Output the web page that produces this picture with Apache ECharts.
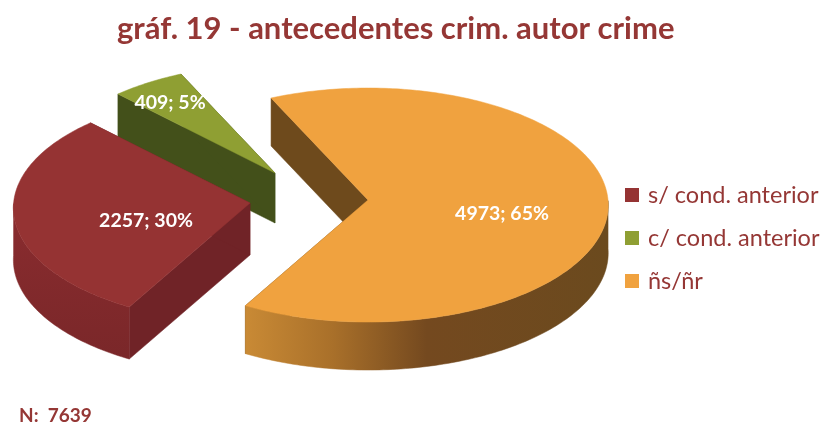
<!DOCTYPE html>
<html>
<head>
<meta charset="utf-8">
<style>html,body{margin:0;padding:0;background:#fff}#chart{width:822px;height:423px}</style>
<script src="https://cdn.jsdelivr.net/npm/echarts@6/dist/echarts.min.js"></script>
</head>
<body>
<div id="chart"></div>
<script>
// ---- data ----
const categories = ['s/ cond. anterior', 'c/ cond. anterior', 'ñs/ñr'];
const values = [2257, 409, 4973];
const titleText = 'gráf. 19 - antecedentes crim. autor crime';

// ---- styling / layout of the tilted, exploded pie ----
const topColors = ['#953333', '#8f9f33', '#f0a23f'];
const cutColors = ['#702327', '#43501a', '#6e4a1c'];
const apexes = [[250, 203], [275, 173], [368, 200]];   // exploded slice tips
const depths = [52, 50, 48];
const radiusScale = [0.985, 0.97, 1];
const labelShift = [[-104, 18], [-105, -70], [134, 14]];
const zOrder = [2, 1, 3];
const RX = 240, RY = 117, PERSP = 0.043, START = 209.5, FONT = 'Lato, Carlito, sans-serif', INK = '#953735';

const total = values.reduce((a, b) => a + b, 0);
const ranges = [];
values.reduce((acc, v) => { const end = acc + v / total * 360; ranges.push([acc, end]); return end; }, START);

function wallFill(i) {
  const G = echarts.graphic.LinearGradient;
  if (i === 2) return new G(0, 0, 1, 0, [
    { offset: 0, color: '#c98a35' }, { offset: 0.24, color: '#a9702a' },
    { offset: 0.5, color: '#74491f' }, { offset: 1, color: '#6b4a1e' }]);
  if (i === 0) return new G(0, 0, 0, 1, [
    { offset: 0, color: '#8a2c2f' }, { offset: 1, color: '#7a2729' }]);
  return cutColors[i];
}

function makeRender(i) {
  return function (params, api) {
    const share = api.value(0) / total;
    const a0 = ranges[i][0], a1 = a0 + share * 360;
    const [ax, ay] = apexes[i], d = depths[i], rs = radiusScale[i];
    const pt = (deg, r, low) => {
      const t = deg * Math.PI / 180, sx = Math.sin(t), sy = -Math.cos(t), s = 1 + PERSP * sy * r;
      return [ax + RX * rs * r * sx * s, ay + RY * rs * r * sy * s + (low ? d : 0)];
    };
    const steps = Math.max(12, Math.round(a1 - a0));
    const top = [], low = [], frontTop = [], frontLow = [];
    for (let k = 0; k <= steps; k++) {
      const a = a0 + (a1 - a0) * k / steps;
      const p = pt(a, 1, false), q = pt(a, 1, true);
      top.push(p);
      low.push(q);
      if (Math.cos(a * Math.PI / 180) <= 0) { frontTop.push(p); frontLow.push(q); }
    }
    const poly = (points, fill) => ({ type: 'polygon', shape: { points }, style: { fill, stroke: fill, lineWidth: 0.5 } });
    const centre = pt(0, 0, false), centreLow = pt(0, 0, true);
    const children = [
      poly([centre, top[0], low[0], centreLow], cutColors[i]),
      poly([centre, top[steps], low[steps], centreLow], cutColors[i])
    ];
    if (frontTop.length > 1) children.push(poly(frontTop.concat(frontLow.slice().reverse()), wallFill(i)));
    children.push(poly([centre].concat(top), topColors[i]));
    children.push({
      type: 'text', z2: 10,
      style: {
        x: ax + labelShift[i][0], y: ay + labelShift[i][1],
        text: api.value(0) + '; ' + Math.round(share * 100) + '%',
        fill: '#fff', font: 'bold 19.5px ' + FONT, align: 'center', verticalAlign: 'middle'
      }
    });
    return { type: 'group', children };
  };
}

const chart = echarts.init(document.getElementById('chart'), null, { renderer: 'canvas' });
chart.setOption({
  animation: false,
  backgroundColor: '#fff',
  title: [
    { text: titleText, left: 112, top: 8, textStyle: { color: INK, fontFamily: FONT, fontWeight: 'bold', fontSize: 31 } },
    { text: 'N:  ' + total, left: 14, top: 401, textStyle: { color: INK, fontFamily: FONT, fontWeight: 'bold', fontSize: 19 } }
  ],
  legend: {
    orient: 'vertical', left: 620, top: 178, icon: 'rect', itemWidth: 14, itemHeight: 14, itemGap: 19, selectedMode: false,
    data: categories,
    textStyle: { color: INK, fontFamily: FONT, fontSize: 23.5, lineHeight: 22, padding: [0, 0, 0, 4] }
  },
  series: categories.map((name, i) => ({
    type: 'custom', name, coordinateSystem: 'none', z: zOrder[i],
    itemStyle: { color: topColors[i] },
    renderItem: makeRender(i),
    data: [{ name, value: [values[i]] }]
  }))
});
</script>
</body>
</html>
